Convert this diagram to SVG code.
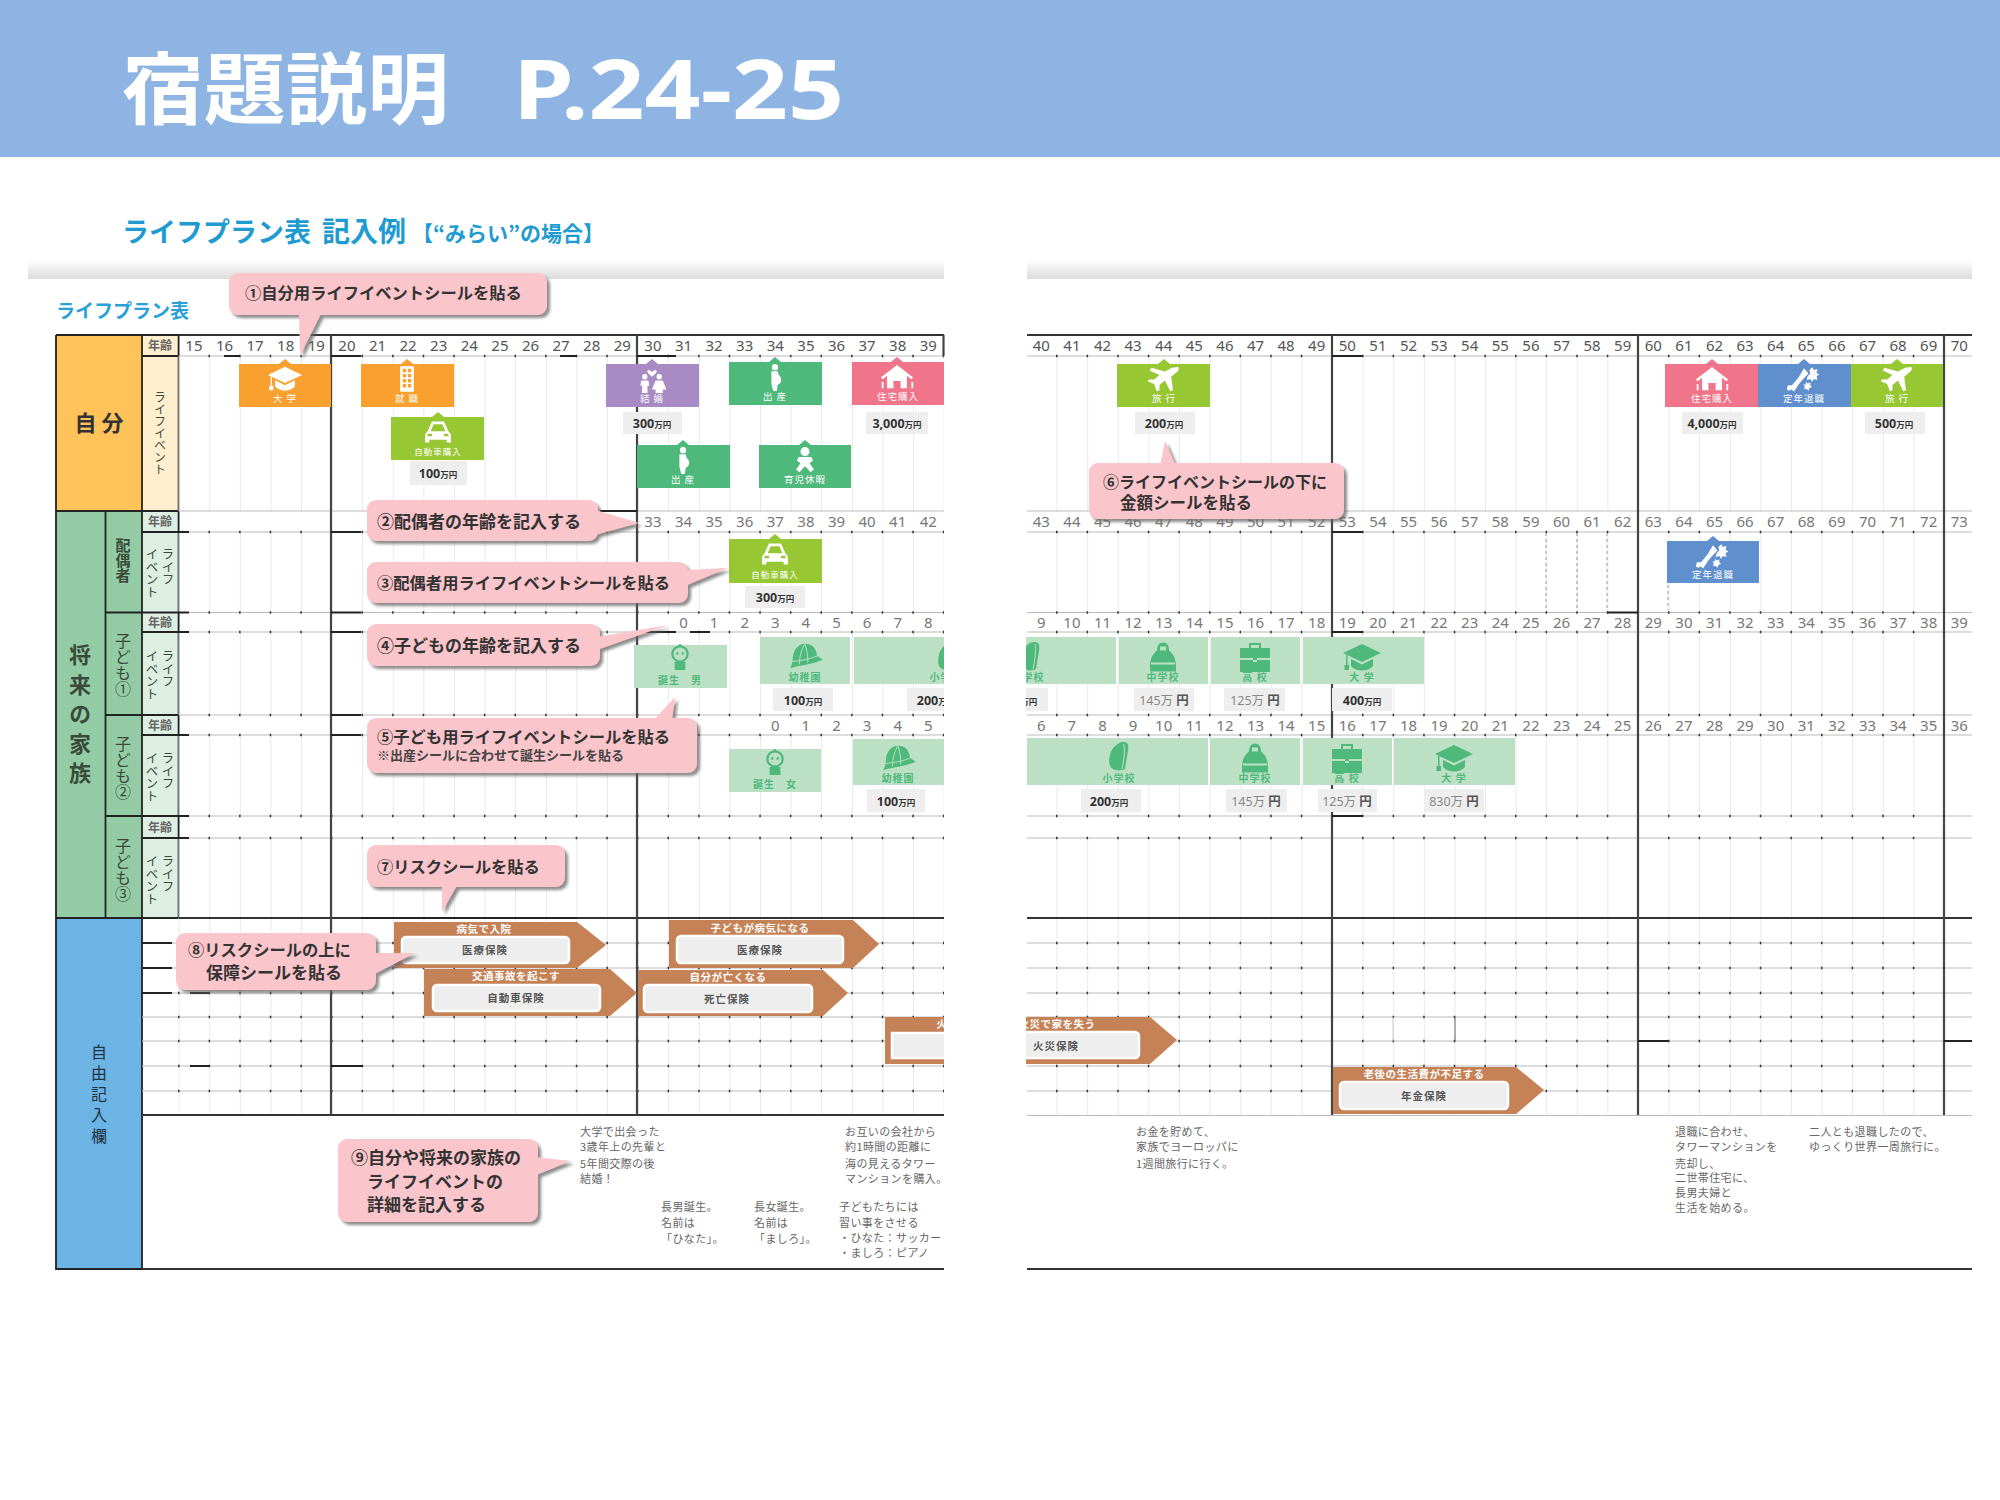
<svg xmlns="http://www.w3.org/2000/svg" width="2000" height="1500" viewBox="0 0 2000 1500">
<style>
text{font-family:"Noto Sans CJK JP","Noto Sans",sans-serif}
.age{font-family:"Noto Sans","Noto Sans CJK JP",sans-serif;font-size:15px;fill:#555;text-anchor:middle}
.a2{fill:#777}
.lab{font-size:12px;font-weight:700;fill:#666;text-anchor:middle}
.v{writing-mode:vertical-rl;fill:#3a4a3a}
.cal{font-size:17px;font-weight:700;fill:#333}
.c16{font-size:16.300px}
.cb{fill:#FAC5CB}
.st{font-size:9.5px;fill:#fff;text-anchor:middle;letter-spacing:1px}
.sg{font-size:10px;fill:#4FB97C;text-anchor:middle;letter-spacing:1px;font-weight:700}
.amt{fill:#eeeeee}
.am{font-size:12.5px;font-weight:700;fill:#333;text-anchor:middle;font-family:"Noto Sans","Noto Sans CJK JP",sans-serif}
.am2{fill:#888;font-weight:400}
.am tspan.u{font-size:8.5px}
.note{font-size:11px;fill:#666;letter-spacing:.4px}
.rt{font-size:10.5px;fill:#fff;text-anchor:middle;letter-spacing:.5px;font-weight:700}
.rb{font-size:10.5px;fill:#555;text-anchor:middle;letter-spacing:1px;font-weight:700}
.risk{fill:#C58256}
.rbox{fill:#eeeeee;stroke:#fff;stroke-width:2.5}
.hl{stroke:#bbb;stroke-width:1.2}
.dk{stroke:#333;stroke-width:2}
.dt{stroke:#333;stroke-width:2.5;stroke-dasharray:1.5 29.1}
.vg{stroke:#e9e9e9;stroke-dasharray:1 29.6}
.thk{stroke:#222;stroke-width:2}
.w{color:#fff}
.g{color:#4FB97C}
</style>
<defs>
<linearGradient id="band" x1="0" y1="0" x2="0" y2="1"><stop offset="0" stop-color="#fff"/><stop offset="1" stop-color="#dcdcdc"/></linearGradient>
<filter id="sh" x="-10%" y="-20%" width="125%" height="150%"><feDropShadow dx="3" dy="3" stdDeviation="1.5" flood-color="#666" flood-opacity=".75"/></filter>
<clipPath id="clipL"><rect x="0" y="0" width="944" height="1500"/></clipPath>
<clipPath id="clipR"><rect x="1026" y="0" width="974" height="1500"/></clipPath>
<symbol id="i-cap" viewBox="0 0 40 30"><path fill="currentColor" d="M20 2L39 11L20 20L1 11ZM9 17V24C14 30 26 30 31 24V17L20 22.500ZM4 13H5.500V23H7V28H2.500V23H4Z"/></symbol>
<symbol id="i-bld" viewBox="0 0 40 30"><path fill="currentColor" fill-rule="evenodd" d="M12 0H28V30H12ZM15 3V7H19V3ZM21 3V7H25V3ZM15 9V13H19V9ZM21 9V13H25V9ZM15 15V19H19V15ZM21 15V19H25V15ZM15 21V25H19V21ZM21 21V25H25V21Z"/></symbol>
<symbol id="i-car" viewBox="0 0 40 30"><path fill="currentColor" fill-rule="evenodd" d="M13 3H27L32 14L35 18V27H30V24H10V27H5V18L8 14ZM15 6L11.500 14H28.500L25 6ZM8 17V20H13V17ZM27 17V20H32V17Z"/></symbol>
<symbol id="i-cpl" viewBox="0 0 40 30"><path fill="currentColor" d="M20 7C17 3 14 4 15 7C16 9 18 10 20 12C22 10 24 9 25 7C26 4 23 3 20 7ZM12 9A3 3 0 1 1 12 15A3 3 0 1 1 12 9ZM28 9A3 3 0 1 1 28 15A3 3 0 1 1 28 9ZM8 16H16L17 22H15V30H9V22H7ZM24 16H32L36 26H32V30H24V26H20Z"/></symbol>
<symbol id="i-prg" viewBox="0 0 40 30"><path fill="currentColor" d="M20 0A3.500 3.500 0 1 1 20 7A3.500 3.500 0 1 1 20 0ZM16 8H23L24 12C28 15 28 22 23 23L22 30H18L16 22Z"/></symbol>
<symbol id="i-hou" viewBox="0 0 40 30"><path fill="currentColor" d="M20 1L38 15L36 17L31 13V27H24V19H16V27H9V13L4 17L2 15ZM3 20H5V27H3ZM36 20H38V27H36Z"/></symbol>
<symbol id="i-bab" viewBox="0 0 40 30"><path fill="currentColor" d="M20 0A5 5 0 1 1 20 10A5 5 0 1 1 20 0ZM13 11H27L29 15L25 18L30 25L26 28L21 22H19L14 28L10 25L15 18L11 15Z"/></symbol>
<symbol id="i-pln" viewBox="0 0 40 30"><path fill="currentColor" d="M35 1C37 1 37 4 35 6L28 12L30 27L27 28L21 16L15 21L15 27L12 28L9 20L2 17L3 15L9 15L15 10L4 5L6 2L21 6L29 2Z"/></symbol>
<symbol id="i-bqt" viewBox="0 0 40 30"><path fill="currentColor" d="M20 3L25 9L18 16L14 21L9 29L4 25L10 18L14 13ZM29 2L31 5L35 4L34 8L37 10L34 12L35 16L31 15L29 18L27 15L23 16L24 12L27 9L26 5ZM22 18L24 20L27 19L27 22L29 24L26 25L25 28L23 26L20 26L21 23L19 21L22 21ZM2 22L6 22L8 25L4 28L1 27Z"/></symbol>
<symbol id="i-nbb" viewBox="0 0 40 30"><circle cx="20" cy="11" r="8.500" fill="none" stroke="currentColor" stroke-width="2.500"/><circle cx="20" cy="1.500" r="1.500" fill="currentColor"/><path fill="currentColor" d="M14 20H26V29H14Z M16 9H18V12H16Z M22 9H24V12H22Z"/></symbol>
<symbol id="i-hat" viewBox="0 0 40 30"><path fill="currentColor" d="M20 2C29 2 32 8 33 15L39 19C28 24 14 25 4 28C6 24 7 22 7 16C8 8 13 2 20 2Z"/><path fill="none" stroke="#BCE0C4" stroke-width="1" d="M20 2C16 8 14 16 14 24M20 2C22 8 23 14 23 22M6 21C14 20 24 19 33 15"/></symbol>
<symbol id="i-bpk" viewBox="0 0 40 30"><path fill="currentColor" d="M24 1C29 1 30 4 29 10L26 28C20 31 13 29 11 25C9 19 11 10 15 6C18 3 21 1 24 1Z"/><path fill="none" stroke="#BCE0C4" stroke-width="1" d="M25 3C26 10 25 20 23 28"/></symbol>
<symbol id="i-sbg" viewBox="0 0 40 30"><path fill="currentColor" fill-rule="evenodd" d="M20 1C24 1 26 4 26 9C30 12 33 17 33 24V30H7V24C7 17 10 12 14 9C14 4 16 1 20 1ZM17 5V9H23V5ZM8 21V23H32V21Z"/></symbol>
<symbol id="i-brf" viewBox="0 0 40 30"><path fill="currentColor" d="M14 1H26V6H35V16H22V18H18V16H5V6H14ZM16 3V6H24V3ZM5 18H18V20H22V18H35V30H5Z"/></symbol>
</defs>

<rect width="2000" height="1500" fill="#fff"/>

<g id="header">
<rect width="2000" height="157" fill="#8EB4E3"/>
<text x="122" y="118" font-size="78" font-weight="700" fill="#fff" textLength="327" lengthAdjust="spacingAndGlyphs">宿題説明</text>
<text x="513" y="119" font-size="83" font-weight="700" fill="#fff" textLength="331" lengthAdjust="spacingAndGlyphs" style="font-family:'Noto Sans',sans-serif">P.24-25</text>
</g>
<g id="subtitle">
<text x="122" y="242" font-size="27" font-weight="700" fill="#1E9BD0">ライフプラン表</text>
<text x="322" y="242" font-size="28" font-weight="700" fill="#1E9BD0">記入例</text>
<text x="412" y="241" font-size="21" font-weight="700" fill="#1E9BD0">【“みらい”の場合】</text>
<rect x="28" y="260" width="916" height="19" fill="url(#band)"/>
<rect x="1027" y="260" width="945" height="19" fill="url(#band)"/>
<text x="56" y="318" font-size="19" font-weight="700" fill="#2AA0D8">ライフプラン表</text>
</g>

<g id="row-labels">
<rect x="56" y="335" width="86" height="176" fill="#FFC35A"/>
<rect x="142" y="335" width="36.600" height="176" fill="#FFEFCF"/>
<rect x="56" y="511" width="86" height="407" fill="#93CCA4"/>
<rect x="142" y="511" width="36.600" height="407" fill="#DDEEE2"/>
<rect x="56" y="918" width="86" height="351" fill="#6CB4E4"/>
<path d="M56 335H178.600V918M56 335V1269H142V918M142 335V918M105.500 511V918M56 511H178.600M105.500 612.500H178.600M105.500 715H178.600M105.500 816H178.600M56 918H178.600M142 356H178.600M142 532H178.600M142 632H178.600M142 735H178.600M142 838H178.600" fill="none" stroke="#222" stroke-width="1.800"/>
<text x="99" y="431" font-size="22" font-weight="700" fill="#333" text-anchor="middle">自 分</text>
<text x="160" y="350" class="lab">年齢</text><text x="160" y="526" class="lab">年齢</text><text x="160" y="627" class="lab">年齢</text><text x="160" y="730" class="lab">年齢</text><text x="160" y="832" class="lab">年齢</text>
<text class="v" x="160" y="391" font-size="12" letter-spacing="0">ライフイベント</text>
<text class="v" x="80" y="644" font-size="22" font-weight="700" letter-spacing="7.500">将来の家族</text>
<text class="v" x="123" y="538" font-size="15" font-weight="700">配偶者</text>
<text class="v" x="123" y="633" font-size="16">子ども①</text>
<text class="v" x="123" y="736" font-size="16">子ども②</text>
<text class="v" x="123" y="838" font-size="16">子ども③</text>
<text class="v" x="168" y="548" font-size="12.500">ライフ</text><text class="v" x="152" y="548" font-size="12.500">イベント</text>
<text class="v" x="168" y="650" font-size="12.500">ライフ</text><text class="v" x="152" y="650" font-size="12.500">イベント</text>
<text class="v" x="168" y="752" font-size="12.500">ライフ</text><text class="v" x="152" y="752" font-size="12.500">イベント</text>
<text class="v" x="168" y="855" font-size="12.500">ライフ</text><text class="v" x="152" y="855" font-size="12.500">イベント</text>
<text class="v" x="99" y="1044" font-size="16" letter-spacing="5" style="fill:#234">自由記入欄</text>
</g>

<g id="grid">
<g id="grid-vertical">
<line class="vg" x1="178.600" x2="944" y1="433.500" y2="433.500" stroke-width="155"/>
<line class="vg" x1="178.600" x2="944" y1="572.500" y2="572.500" stroke-width="81"/>
<line class="vg" x1="178.600" x2="944" y1="673.500" y2="673.500" stroke-width="83"/>
<line class="vg" x1="178.600" x2="944" y1="775.500" y2="775.500" stroke-width="81"/>
<line class="vg" x1="178.600" x2="944" y1="878" y2="878" stroke-width="80"/>
<line class="vg" x1="178.600" x2="944" y1="1016.500" y2="1016.500" stroke-width="197"/>
<line class="vg" x1="1056.600" x2="1972" y1="433.500" y2="433.500" stroke-width="155"/>
<line class="vg" x1="1056.600" x2="1972" y1="572.500" y2="572.500" stroke-width="81"/>
<line class="vg" x1="1056.600" x2="1972" y1="673.500" y2="673.500" stroke-width="83"/>
<line class="vg" x1="1056.600" x2="1972" y1="775.500" y2="775.500" stroke-width="81"/>
<line class="vg" x1="1056.600" x2="1972" y1="878" y2="878" stroke-width="80"/>
<line class="vg" x1="1056.600" x2="1972" y1="1016.500" y2="1016.500" stroke-width="197"/>
</g>
<g id="grid-horizontal">
<path class="hl" fill="none" d="M178.600 356H944M178.600 511H944M178.600 532H944M178.600 612.500H944M178.600 632H944M178.600 715H944M178.600 735H944M178.600 816H944M178.600 838H944M142 943H944M142 968H944M142 993H944M142 1017H944M142 1041H944M142 1066H944M142 1091H944M1027 356H1972M1027 511H1972M1027 532H1972M1027 612.500H1972M1027 632H1972M1027 715H1972M1027 735H1972M1027 816H1972M1027 838H1972M1027 943H1972M1027 968H1972M1027 993H1972M1027 1017H1972M1027 1041H1972M1027 1066H1972M1027 1091H1972M1027 1115.500H1972"/>
<path class="dt" fill="none" d="M208.500 356H944M208.500 532H944M208.500 612.500H944M208.500 632H944M208.500 715H944M208.500 735H944M208.500 816H944M208.500 838H944M178 943H944M178 968H944M178 993H944M178 1017H944M178 1041H944M178 1066H944M178 1091H944"/>
<path class="dt" fill="none" d="M1056 356H1944M1056 532H1944M1056 612.500H1944M1056 632H1944M1056 715H1944M1056 735H1944M1056 816H1944M1056 838H1944M1056 943H1944M1056 968H1944M1056 993H1944M1056 1017H1944M1056 1041H1944M1056 1066H1944M1056 1091H1944"/>
<path class="dk" fill="none" d="M178.600 335H944M1027 335H1972M178.600 918H944M1027 918H1972M142 1115H944M142 1269H944M1027 1269H1972"/>
<path stroke="#444" stroke-width="2.200" fill="none" d="M331 335V1115M637 335V1115M1332 335V1115M1638 335V1115M1944 335V1115M943.500 335V356"/>
</g>
<g id="grid-accents">
<path class="thk" fill="none" d="M178 612.500H189M224 356H240M331 356H361M560 356H577M600 511H637M178 532H189M331 532H361M637 356H676M637 632H676M690 632H710M331 612.500H361M331 632H361M331 715H361M178 632H189M178 735H189M331 735H361M178 816H189M178 838H189M361 918H577M142 943H172M142 968H172M142 993H172M190 993H210M190 1066H210M331 1066H363M1332 356H1362M1332 532H1362M1332 632H1362M1332 816H1362M1638 1041H1668M1944 1041H1972M1607 612.500H1638"/>
<path stroke="#666" stroke-width="1" fill="none" d="M1455 1017V1041"/>
<path stroke="#ccc" stroke-width="1" fill="none" d="M1393 1017V1041"/>
<path stroke="#999" stroke-width="1" stroke-dasharray="3 3" fill="none" d="M1546 533V610M1577 533V610M1607 533V610M1668 585V610"/>
</g>
</g>

<g id="ages-self">
<text class="age" x="193.900" y="351">15</text><text class="age" x="224.500" y="351">16</text><text class="age" x="255.100" y="351">17</text><text class="age" x="285.700" y="351">18</text><text class="age" x="316.300" y="351">19</text><text class="age" x="346.900" y="351">20</text><text class="age" x="377.500" y="351">21</text><text class="age" x="408.100" y="351">22</text><text class="age" x="438.700" y="351">23</text><text class="age" x="469.300" y="351">24</text><text class="age" x="499.900" y="351">25</text><text class="age" x="530.500" y="351">26</text><text class="age" x="561.100" y="351">27</text><text class="age" x="591.700" y="351">28</text><text class="age" x="622.300" y="351">29</text><text class="age" x="652.900" y="351">30</text><text class="age" x="683.500" y="351">31</text><text class="age" x="714.100" y="351">32</text><text class="age" x="744.700" y="351">33</text><text class="age" x="775.300" y="351">34</text><text class="age" x="805.900" y="351">35</text><text class="age" x="836.500" y="351">36</text><text class="age" x="867.100" y="351">37</text><text class="age" x="897.700" y="351">38</text><text class="age" x="928.300" y="351">39</text>
<text class="age" x="1041.300" y="351">40</text><text class="age" x="1071.900" y="351">41</text><text class="age" x="1102.500" y="351">42</text><text class="age" x="1133.100" y="351">43</text><text class="age" x="1163.700" y="351">44</text><text class="age" x="1194.300" y="351">45</text><text class="age" x="1224.900" y="351">46</text><text class="age" x="1255.500" y="351">47</text><text class="age" x="1286.100" y="351">48</text><text class="age" x="1316.700" y="351">49</text><text class="age" x="1347.300" y="351">50</text><text class="age" x="1377.900" y="351">51</text><text class="age" x="1408.500" y="351">52</text><text class="age" x="1439.100" y="351">53</text><text class="age" x="1469.700" y="351">54</text><text class="age" x="1500.300" y="351">55</text><text class="age" x="1530.900" y="351">56</text><text class="age" x="1561.500" y="351">57</text><text class="age" x="1592.100" y="351">58</text><text class="age" x="1622.700" y="351">59</text><text class="age" x="1653.300" y="351">60</text><text class="age" x="1683.900" y="351">61</text><text class="age" x="1714.500" y="351">62</text><text class="age" x="1745.100" y="351">63</text><text class="age" x="1775.700" y="351">64</text><text class="age" x="1806.300" y="351">65</text><text class="age" x="1836.900" y="351">66</text><text class="age" x="1867.500" y="351">67</text><text class="age" x="1898.100" y="351">68</text><text class="age" x="1928.700" y="351">69</text><text class="age" x="1959.300" y="351">70</text>
</g>
<g id="ages-spouse">
<text class="age a2" x="652.900" y="527">33</text><text class="age a2" x="683.500" y="527">34</text><text class="age a2" x="714.100" y="527">35</text><text class="age a2" x="744.700" y="527">36</text><text class="age a2" x="775.300" y="527">37</text><text class="age a2" x="805.900" y="527">38</text><text class="age a2" x="836.500" y="527">39</text><text class="age a2" x="867.100" y="527">40</text><text class="age a2" x="897.700" y="527">41</text><text class="age a2" x="928.300" y="527">42</text>
<text class="age a2" x="1041.300" y="527">43</text><text class="age a2" x="1071.900" y="527">44</text><text class="age a2" x="1102.500" y="527">45</text><text class="age a2" x="1133.100" y="527">46</text><text class="age a2" x="1163.700" y="527">47</text><text class="age a2" x="1194.300" y="527">48</text><text class="age a2" x="1224.900" y="527">49</text><text class="age a2" x="1255.500" y="527">50</text><text class="age a2" x="1286.100" y="527">51</text><text class="age a2" x="1316.700" y="527">52</text><text class="age a2" x="1347.300" y="527">53</text><text class="age a2" x="1377.900" y="527">54</text><text class="age a2" x="1408.500" y="527">55</text><text class="age a2" x="1439.100" y="527">56</text><text class="age a2" x="1469.700" y="527">57</text><text class="age a2" x="1500.300" y="527">58</text><text class="age a2" x="1530.900" y="527">59</text><text class="age a2" x="1561.500" y="527">60</text><text class="age a2" x="1592.100" y="527">61</text><text class="age a2" x="1622.700" y="527">62</text><text class="age a2" x="1653.300" y="527">63</text><text class="age a2" x="1683.900" y="527">64</text><text class="age a2" x="1714.500" y="527">65</text><text class="age a2" x="1745.100" y="527">66</text><text class="age a2" x="1775.700" y="527">67</text><text class="age a2" x="1806.300" y="527">68</text><text class="age a2" x="1836.900" y="527">69</text><text class="age a2" x="1867.500" y="527">70</text><text class="age a2" x="1898.100" y="527">71</text><text class="age a2" x="1928.700" y="527">72</text><text class="age a2" x="1959.300" y="527">73</text>
</g>
<g id="ages-child1">
<text class="age a2" x="683.500" y="628">0</text><text class="age a2" x="714.100" y="628">1</text><text class="age a2" x="744.700" y="628">2</text><text class="age a2" x="775.300" y="628">3</text><text class="age a2" x="805.900" y="628">4</text><text class="age a2" x="836.500" y="628">5</text><text class="age a2" x="867.100" y="628">6</text><text class="age a2" x="897.700" y="628">7</text><text class="age a2" x="928.300" y="628">8</text>
<text class="age a2" x="1041.300" y="628">9</text><text class="age a2" x="1071.900" y="628">10</text><text class="age a2" x="1102.500" y="628">11</text><text class="age a2" x="1133.100" y="628">12</text><text class="age a2" x="1163.700" y="628">13</text><text class="age a2" x="1194.300" y="628">14</text><text class="age a2" x="1224.900" y="628">15</text><text class="age a2" x="1255.500" y="628">16</text><text class="age a2" x="1286.100" y="628">17</text><text class="age a2" x="1316.700" y="628">18</text><text class="age a2" x="1347.300" y="628">19</text><text class="age a2" x="1377.900" y="628">20</text><text class="age a2" x="1408.500" y="628">21</text><text class="age a2" x="1439.100" y="628">22</text><text class="age a2" x="1469.700" y="628">23</text><text class="age a2" x="1500.300" y="628">24</text><text class="age a2" x="1530.900" y="628">25</text><text class="age a2" x="1561.500" y="628">26</text><text class="age a2" x="1592.100" y="628">27</text><text class="age a2" x="1622.700" y="628">28</text><text class="age a2" x="1653.300" y="628">29</text><text class="age a2" x="1683.900" y="628">30</text><text class="age a2" x="1714.500" y="628">31</text><text class="age a2" x="1745.100" y="628">32</text><text class="age a2" x="1775.700" y="628">33</text><text class="age a2" x="1806.300" y="628">34</text><text class="age a2" x="1836.900" y="628">35</text><text class="age a2" x="1867.500" y="628">36</text><text class="age a2" x="1898.100" y="628">37</text><text class="age a2" x="1928.700" y="628">38</text><text class="age a2" x="1959.300" y="628">39</text>
</g>
<g id="ages-child2">
<text class="age a2" x="775.300" y="731">0</text><text class="age a2" x="805.900" y="731">1</text><text class="age a2" x="836.500" y="731">2</text><text class="age a2" x="867.100" y="731">3</text><text class="age a2" x="897.700" y="731">4</text><text class="age a2" x="928.300" y="731">5</text>
<text class="age a2" x="1041.300" y="731">6</text><text class="age a2" x="1071.900" y="731">7</text><text class="age a2" x="1102.500" y="731">8</text><text class="age a2" x="1133.100" y="731">9</text><text class="age a2" x="1163.700" y="731">10</text><text class="age a2" x="1194.300" y="731">11</text><text class="age a2" x="1224.900" y="731">12</text><text class="age a2" x="1255.500" y="731">13</text><text class="age a2" x="1286.100" y="731">14</text><text class="age a2" x="1316.700" y="731">15</text><text class="age a2" x="1347.300" y="731">16</text><text class="age a2" x="1377.900" y="731">17</text><text class="age a2" x="1408.500" y="731">18</text><text class="age a2" x="1439.100" y="731">19</text><text class="age a2" x="1469.700" y="731">20</text><text class="age a2" x="1500.300" y="731">21</text><text class="age a2" x="1530.900" y="731">22</text><text class="age a2" x="1561.500" y="731">23</text><text class="age a2" x="1592.100" y="731">24</text><text class="age a2" x="1622.700" y="731">25</text><text class="age a2" x="1653.300" y="731">26</text><text class="age a2" x="1683.900" y="731">27</text><text class="age a2" x="1714.500" y="731">28</text><text class="age a2" x="1745.100" y="731">29</text><text class="age a2" x="1775.700" y="731">30</text><text class="age a2" x="1806.300" y="731">31</text><text class="age a2" x="1836.900" y="731">32</text><text class="age a2" x="1867.500" y="731">33</text><text class="age a2" x="1898.100" y="731">34</text><text class="age a2" x="1928.700" y="731">35</text><text class="age a2" x="1959.300" y="731">36</text>
</g>

<g id="s-daigaku"><path fill="#F9A02E" d="M239 364H279L285 359L291 364H331V407H239Z"/><use href="#i-cap" class="w" x="267" y="365" width="36" height="27"/><text class="st" x="285" y="402">大 学</text></g>
<g id="s-shushoku"><path fill="#F9A02E" d="M361 364H401L407 359L413 364H454V407H361Z"/><use href="#i-bld" class="w" x="390" y="366" width="34" height="26"/><text class="st" x="407" y="402">就 職</text></g>
<g id="s-car1"><path fill="#97C733" d="M391 417H432L438 412L444 417H484V460H391Z"/><use href="#i-car" class="w" x="420" y="419" width="36" height="26"/><text class="st" style="font-size:8.500px" x="438" y="455">自動車購入</text><rect class="amt" x="410" y="461" width="57" height="24"/><text class="am" x="438" y="478">100<tspan class="u">万円</tspan></text></g>
<g id="s-kekkon"><path fill="#A88BC4" d="M606 364H646L652 359L658 364H699V407H606Z"/><use href="#i-cpl" class="w" x="634" y="366" width="36" height="27"/><text class="st" x="652" y="402">結 婚</text><rect class="amt" x="623" y="412" width="59" height="22"/><text class="am" x="652" y="428">300<tspan class="u">万円</tspan></text></g>
<g id="s-shussan1"><path fill="#4FB97C" d="M729 362H769L775 357L781 362H822V405H729Z"/><use href="#i-prg" class="w" x="757" y="364" width="36" height="27"/><text class="st" x="775" y="400">出 産</text></g>
<g id="s-jutaku1"><path fill="#F0758B" d="M852 362H891L897 357L903 362H944V405H852Z"/><use href="#i-hou" class="w" x="879" y="364" width="36" height="27"/><text class="st" x="898" y="400">住宅購入</text><rect class="amt" x="866" y="412" width="62" height="22"/><text class="am" x="897" y="428">3,000<tspan class="u">万円</tspan></text></g>
<g id="s-shussan2"><path fill="#4FB97C" d="M637 445H677L683 440L689 445H730V488H637Z"/><use href="#i-prg" class="w" x="665" y="447" width="36" height="27"/><text class="st" x="683" y="483">出 産</text></g>
<g id="s-ikuji"><path fill="#4FB97C" d="M759 445H799L805 440L811 445H851V488H759Z"/><use href="#i-bab" class="w" x="787" y="447" width="36" height="27"/><text class="st" x="805" y="483">育児休暇</text></g>
<g id="s-car2"><path fill="#97C733" d="M729 539H769L775 534L781 539H822V583H729Z"/><use href="#i-car" class="w" x="757" y="541" width="36" height="26"/><text class="st" style="font-size:8.500px" x="775" y="578">自動車購入</text><rect class="amt" x="745" y="586" width="60" height="22"/><text class="am" x="775" y="602">300<tspan class="u">万円</tspan></text></g>
<g id="s-boy"><rect fill="#BCE0C4" x="634" y="645" width="93" height="43"/><use href="#i-nbb" class="g" x="662" y="641" width="36" height="33"/><text class="sg" x="680" y="684">誕生　男</text></g>
<g id="s-yochien1"><rect fill="#BCE0C4" x="760" y="637" width="90" height="47"/><use href="#i-hat" class="g" x="785" y="642" width="40" height="28"/><text class="sg" x="805" y="681">幼稚園</text><rect class="amt" x="773" y="688" width="60" height="23"/><text class="am" x="803" y="705">100<tspan class="u">万円</tspan></text></g>
<g id="s-shogaku1">
<g clip-path="url(#clipL)"><rect fill="#BCE0C4" x="854" y="637" width="90" height="47"/><use href="#i-bpk" class="g" x="928" y="640" width="40" height="32"/><text class="sg" x="946" y="681">小学校</text><rect class="amt" x="907" y="688" width="59" height="23"/><text class="am" x="936" y="705">200<tspan class="u">万円</tspan></text></g>
<g clip-path="url(#clipR)"><rect fill="#BCE0C4" x="1026" y="637" width="90" height="47"/><use href="#i-bpk" class="g" x="1010" y="640" width="40" height="32"/><text class="sg" x="1028" y="681">小学校</text><rect class="amt" x="989" y="688" width="59" height="23"/><text class="am" x="1018" y="705">200<tspan class="u">万円</tspan></text></g>
</g>
<g id="s-chugaku1"><rect fill="#BCE0C4" x="1119" y="637" width="89" height="47"/><use href="#i-sbg" class="g" x="1143" y="641" width="40" height="31"/><text class="sg" x="1163" y="681">中学校</text><rect class="amt" x="1134" y="688" width="60" height="23"/><text class="am am2" x="1164" y="705">145万<tspan style="fill:#555;font-weight:700"> 円</tspan></text></g>
<g id="s-kokou1"><rect fill="#BCE0C4" x="1211" y="637" width="89" height="47"/><use href="#i-brf" class="g" x="1235" y="642" width="40" height="30"/><text class="sg" x="1255" y="681">高 校</text><rect class="amt" x="1224" y="688" width="61" height="23"/><text class="am am2" x="1255" y="705">125万<tspan style="fill:#555;font-weight:700"> 円</tspan></text></g>
<g id="s-daigaku1"><rect fill="#BCE0C4" x="1303" y="637" width="121" height="47"/><use href="#i-cap" class="g" x="1342" y="642" width="40" height="30"/><text class="sg" x="1362" y="681">大 学</text><rect class="amt" x="1332" y="688" width="60" height="23"/><text class="am" x="1362" y="705">400<tspan class="u">万円</tspan></text></g>
<g id="s-girl"><rect fill="#BCE0C4" x="729" y="749" width="92" height="43"/><use href="#i-nbb" class="g" x="757" y="746" width="36" height="33"/><text class="sg" x="775" y="788">誕生　女</text></g>
<g id="s-yochien2"><rect fill="#BCE0C4" x="853" y="739" width="91" height="46"/><use href="#i-hat" class="g" x="878" y="744" width="40" height="28"/><text class="sg" x="898" y="782">幼稚園</text><rect class="amt" x="867" y="789" width="58" height="23"/><text class="am" x="896" y="806">100<tspan class="u">万円</tspan></text></g>
<g id="s-shogaku2"><rect fill="#BCE0C4" x="1027" y="738" width="181" height="47"/><use href="#i-bpk" class="g" x="1099" y="740" width="40" height="32"/><text class="sg" x="1119" y="782">小学校</text><rect class="amt" x="1081" y="789" width="60" height="23"/><text class="am" x="1109" y="806">200<tspan class="u">万円</tspan></text></g>
<g id="s-chugaku2"><rect fill="#BCE0C4" x="1210" y="738" width="90" height="47"/><use href="#i-sbg" class="g" x="1235" y="742" width="40" height="31"/><text class="sg" x="1255" y="782">中学校</text><rect class="amt" x="1226" y="789" width="61" height="23"/><text class="am am2" x="1256" y="806">145万<tspan style="fill:#555;font-weight:700"> 円</tspan></text></g>
<g id="s-kokou2"><rect fill="#BCE0C4" x="1303" y="738" width="89" height="47"/><use href="#i-brf" class="g" x="1327" y="743" width="40" height="30"/><text class="sg" x="1347" y="782">高 校</text><rect class="amt" x="1318" y="789" width="59" height="23"/><text class="am am2" x="1347" y="806">125万<tspan style="fill:#555;font-weight:700"> 円</tspan></text></g>
<g id="s-daigaku2"><rect fill="#BCE0C4" x="1394" y="738" width="121" height="47"/><use href="#i-cap" class="g" x="1434" y="743" width="40" height="30"/><text class="sg" x="1454" y="782">大 学</text><rect class="amt" x="1424" y="789" width="60" height="23"/><text class="am am2" x="1454" y="806">830万<tspan style="fill:#555;font-weight:700"> 円</tspan></text></g>
<g id="s-ryoko1"><path fill="#97C733" d="M1117 364H1158L1164 359L1170 364H1210V407H1117Z"/><use href="#i-pln" class="w" x="1146" y="366" width="36" height="27"/><text class="st" x="1164" y="402">旅 行</text><rect class="amt" x="1135" y="412" width="60" height="22"/><text class="am" x="1164" y="428">200<tspan class="u">万円</tspan></text></g>
<g id="s-jutaku2"><path fill="#F0758B" d="M1665 364H1706L1712 359L1718 364H1758V407H1665Z"/><use href="#i-hou" class="w" x="1694" y="366" width="36" height="27"/><text class="st" x="1712" y="402">住宅購入</text><rect class="amt" x="1682" y="412" width="61" height="22"/><text class="am" x="1712" y="428">4,000<tspan class="u">万円</tspan></text></g>
<g id="s-teinen1"><path fill="#5F8FCC" d="M1758 364H1798L1804 359L1810 364H1851V407H1758Z"/><use href="#i-bqt" class="w" x="1786" y="365" width="36" height="28"/><text class="st" x="1804" y="402">定年退職</text></g>
<g id="s-ryoko2"><path fill="#97C733" d="M1851 364H1891L1897 359L1903 364H1943V407H1851Z"/><use href="#i-pln" class="w" x="1879" y="366" width="36" height="27"/><text class="st" x="1897" y="402">旅 行</text><rect class="amt" x="1865" y="412" width="60" height="22"/><text class="am" x="1894" y="428">500<tspan class="u">万円</tspan></text></g>
<g id="s-teinen2"><path fill="#5F8FCC" d="M1667 541H1707L1713 536L1719 541H1759V583H1667Z"/><use href="#i-bqt" class="w" x="1695" y="542" width="36" height="28"/><text class="st" x="1713" y="578">定年退職</text></g>

<g id="r-byoki"><path class="risk" d="M394 922H577L606 945L577 968H394Z"/><text class="rt" x="484" y="933">病気で入院</text><rect class="rbox" x="402" y="937" width="167" height="26" rx="4"/><text class="rb" x="485" y="954">医療保険</text></g>
<g id="r-kodomo"><path class="risk" d="M669 920H853L879 944L853 968H669Z"/><text class="rt" x="760" y="932">子どもが病気になる</text><rect class="rbox" x="677" y="936" width="166" height="27" rx="4"/><text class="rb" x="760" y="954">医療保険</text></g>
<g id="r-kotsu"><path class="risk" d="M424 969H610L637 993L610 1016H424Z"/><text class="rt" x="516" y="980">交通事故を起こす</text><rect class="rbox" x="433" y="985" width="167" height="26" rx="4"/><text class="rb" x="516" y="1002">自動車保険</text></g>
<g id="r-shibo"><path class="risk" d="M638 970H823L848 993L823 1016H638Z"/><text class="rt" x="728" y="981">自分が亡くなる</text><rect class="rbox" x="644" y="985" width="168" height="27" rx="4"/><text class="rb" x="727" y="1003">死亡保険</text></g>
<g id="r-kasai">
<g clip-path="url(#clipL)"><rect class="risk" x="885" y="1017" width="60" height="47"/><text class="rt" x="975" y="1028">火災で家を失う</text><rect class="rbox" x="892" y="1033" width="60" height="25"/></g>
<g clip-path="url(#clipR)"><path class="risk" d="M1026 1017H1150L1177 1040L1150 1064H1026Z"/><text class="rt" x="1057" y="1028">火災で家を失う</text><rect class="rbox" x="1016" y="1032" width="123" height="26" rx="4"/><text class="rb" x="1056" y="1050">火災保険</text></g>
</g>
<g id="r-nenkin"><path class="risk" d="M1333 1067H1516L1544 1090L1516 1114H1333Z"/><text class="rt" x="1424" y="1078">老後の生活費が不足する</text><rect class="rbox" x="1340" y="1082" width="168" height="27" rx="4"/><text class="rb" x="1424" y="1100">年金保険</text></g>

<g id="notes">
<g id="note1"><text class="note" x="580" y="1136">大学で出会った</text><text class="note" x="580" y="1151">3歳年上の先輩と</text><text class="note" x="580" y="1168">5年間交際の後</text><text class="note" x="580" y="1183">結婚！</text></g>
<g id="note2"><text class="note" x="845" y="1136">お互いの会社から</text><text class="note" x="845" y="1151">約1時間の距離に</text><text class="note" x="845" y="1168">海の見えるタワー</text><text class="note" x="845" y="1183">マンションを購入。</text></g>
<g id="note3"><text class="note" x="661" y="1211">長男誕生。</text><text class="note" x="661" y="1227">名前は</text><text class="note" x="661" y="1243">「ひなた」。</text></g>
<g id="note4"><text class="note" x="754" y="1211">長女誕生。</text><text class="note" x="754" y="1227">名前は</text><text class="note" x="754" y="1243">「ましろ」。</text></g>
<g id="note5"><text class="note" x="839" y="1211">子どもたちには</text><text class="note" x="839" y="1227">習い事をさせる</text><text class="note" x="839" y="1242">・ひなた：サッカー</text><text class="note" x="839" y="1257">・ましろ：ピアノ</text></g>
<g id="note6"><text class="note" x="1136" y="1136">お金を貯めて、</text><text class="note" x="1136" y="1151">家族でヨーロッパに</text><text class="note" x="1136" y="1168">1週間旅行に行く。</text></g>
<g id="note7"><text class="note" x="1675" y="1136">退職に合わせ、</text><text class="note" x="1675" y="1151">タワーマンションを</text><text class="note" x="1675" y="1168">売却し、</text><text class="note" x="1675" y="1182">二世帯住宅に、</text><text class="note" x="1675" y="1197">長男夫婦と</text><text class="note" x="1675" y="1212">生活を始める。</text></g>
<g id="note8"><text class="note" x="1809" y="1136">二人とも退職したので、</text><text class="note" x="1809" y="1151">ゆっくり世界一周旅行に。</text></g>
</g>

<g id="callouts">
<g id="c1"><g filter="url(#sh)"><polygon class="cb" points="299,312 322,312 300,356"/><rect class="cb" x="229" y="273" width="318" height="42" rx="9"/></g><text class="cal c16" x="245" y="299">①自分用ライフイベントシールを貼る</text></g>
<g id="c2"><g filter="url(#sh)"><polygon class="cb" points="595,510 639,523 595,535"/><rect class="cb" x="367" y="500" width="231" height="41" rx="9"/></g><text class="cal" x="377" y="528">②配偶者の年齢を記入する</text></g>
<g id="c3"><g filter="url(#sh)"><polygon class="cb" points="685,570 728,568 685,586"/><rect class="cb" x="367" y="562" width="321" height="41" rx="9"/></g><text class="cal c16" x="377" y="589">③配偶者用ライフイベントシールを貼る</text></g>
<g id="c4"><g filter="url(#sh)"><polygon class="cb" points="597,637 668,625 597,650"/><rect class="cb" x="367" y="624" width="233" height="42" rx="9"/></g><text class="cal" x="377" y="652">④子どもの年齢を記入する</text></g>
<g id="c5"><g filter="url(#sh)"><polygon class="cb" points="653,721 675,697 672,721"/><rect class="cb" x="367" y="718" width="330" height="55" rx="9"/></g><text class="cal c16" x="377" y="743">⑤子ども用ライフイベントシールを貼る</text><text x="377" y="760" font-size="13" font-weight="700" fill="#444">※出産シールに合わせて誕生シールを貼る</text></g>
<g id="c6"><g filter="url(#sh)"><polygon class="cb" points="1160,466 1165,441 1176,466"/><rect class="cb" x="1089" y="463" width="255" height="56" rx="9"/></g><text class="cal" x="1103" y="488" style="font-size:16px">⑥ライフイベントシールの下に</text><text class="cal" x="1120" y="509" style="font-size:16.500px">金額シールを貼る</text></g>
<g id="c7"><g filter="url(#sh)"><polygon class="cb" points="442,884 442,912 458,884"/><rect class="cb" x="367" y="845" width="198" height="42" rx="9"/></g><text class="cal c16" x="377" y="873">⑦リスクシールを貼る</text></g>
<g id="c8"><g filter="url(#sh)"><polygon class="cb" points="373,953 415,953 373,975"/><rect class="cb" x="176" y="933" width="200" height="57" rx="9"/></g><text class="cal c16" x="188" y="956">⑧リスクシールの上に</text><text class="cal" x="206" y="979">保障シールを貼る</text></g>
<g id="c9"><g filter="url(#sh)"><polygon class="cb" points="534,1157 571,1161 534,1176"/><rect class="cb" x="338" y="1139" width="200" height="83" rx="9"/></g><text class="cal" x="351" y="1164">⑨自分や将来の家族の</text><text class="cal" x="367" y="1188">ライフイベントの</text><text class="cal" x="367" y="1211">詳細を記入する</text></g>
</g>
</svg>
